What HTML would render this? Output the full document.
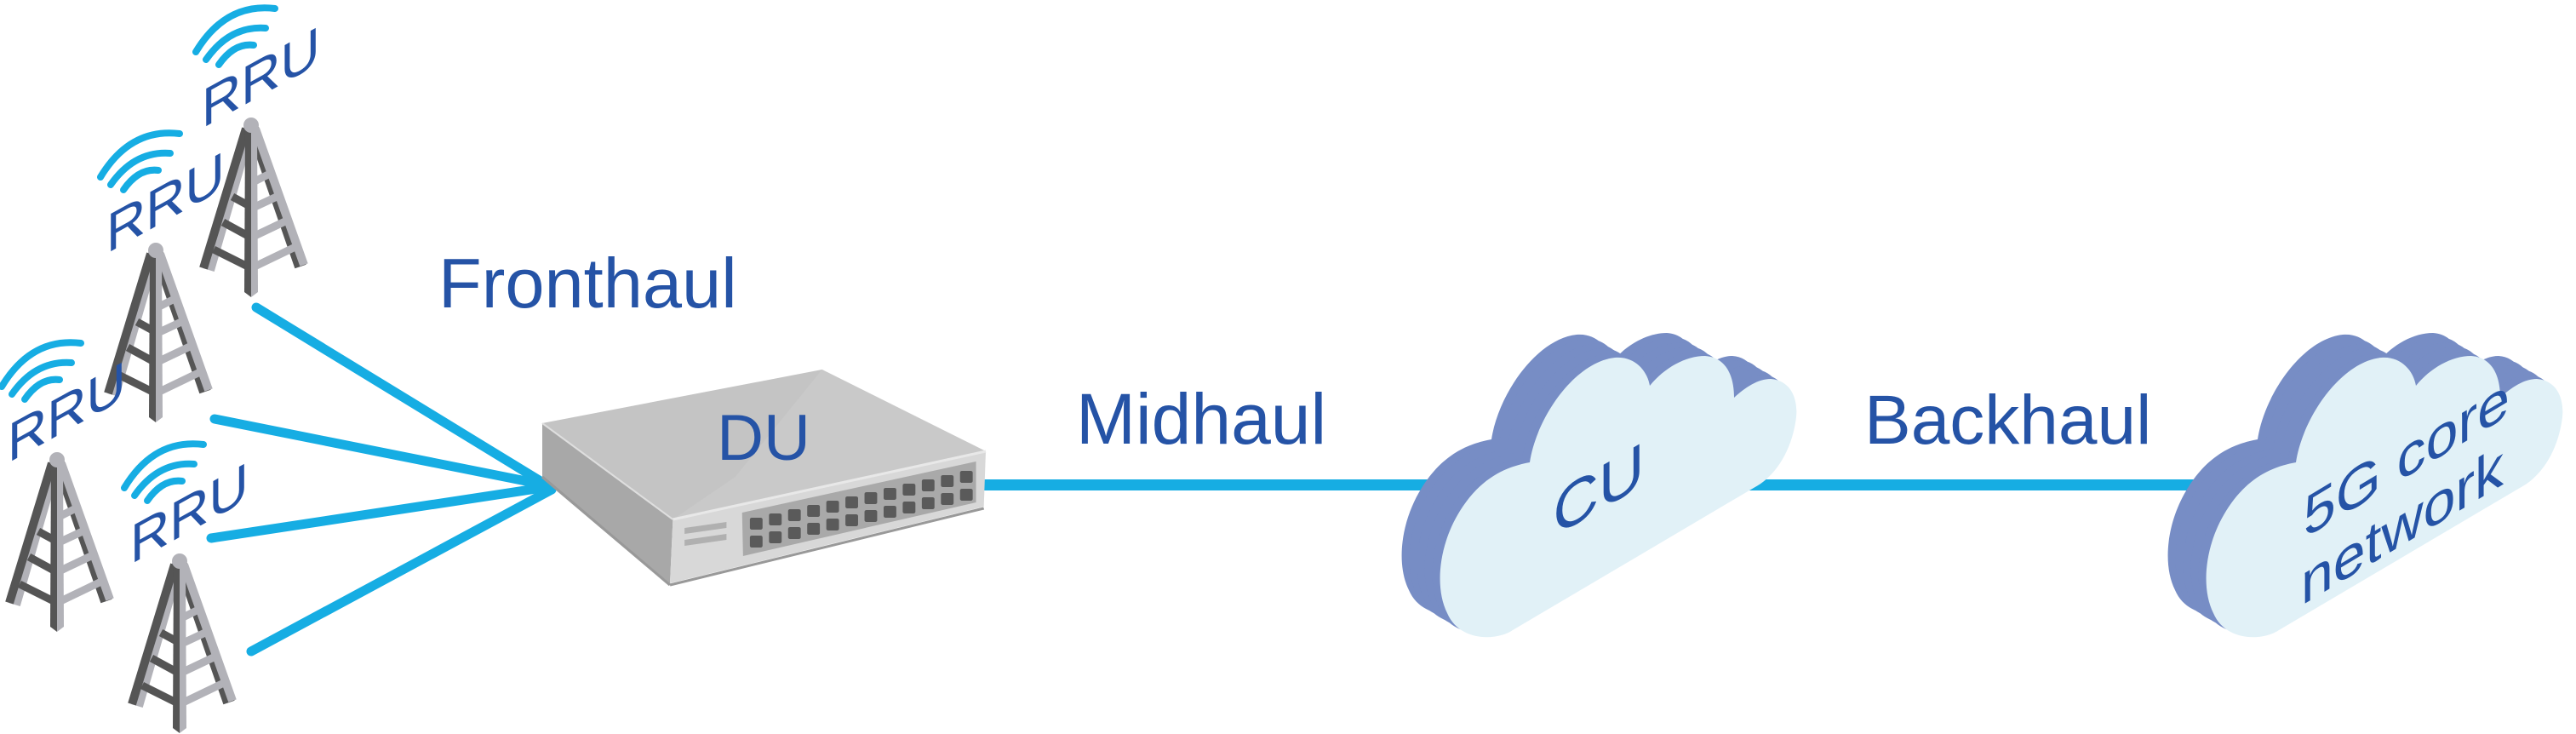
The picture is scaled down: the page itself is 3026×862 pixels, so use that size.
<!DOCTYPE html>
<html><head><meta charset="utf-8"><style>
html,body{margin:0;padding:0;background:#fff;}
svg{display:block;}
text{font-family:"Liberation Sans",sans-serif;fill:#2553a6;}
</style></head><body>
<svg width="3026" height="862" viewBox="0 0 3026 862" xmlns="http://www.w3.org/2000/svg">
<defs>
  <g id="tower">
    <line x1="-2" y1="8" x2="-50" y2="174" stroke="#b2b2b8" stroke-width="14"/>
    <line x1="-6" y1="8" x2="-56" y2="172" stroke="#555" stroke-width="10"/>
    <line x1="2" y1="8" x2="58" y2="170" stroke="#555" stroke-width="14"/>
    <line x1="5" y1="8" x2="62" y2="168" stroke="#b2b2b8" stroke-width="10"/>
    <g stroke="#555" stroke-width="9">
      <line x1="-22" y1="88" x2="0" y2="100"/>
      <line x1="-33" y1="118" x2="0" y2="136"/>
      <line x1="-44" y1="150" x2="0" y2="172"/>
    </g>
    <g stroke="#b2b2b8" stroke-width="9">
      <line x1="0" y1="72" x2="20" y2="62"/>
      <line x1="0" y1="102" x2="30" y2="88"/>
      <line x1="0" y1="136" x2="42" y2="116"/>
      <line x1="0" y1="172" x2="54" y2="146"/>
    </g>
    <polygon points="-7,8 0,8 0,206 -8,200" fill="#555"/>
    <polygon points="0,8 7,8 8,200 0,206" fill="#b2b2b8"/>
    <circle cx="0" cy="4" r="9" fill="#b2b2b8"/>
    <g fill="none" stroke="#16ade3" stroke-width="8" stroke-linecap="round">
      <path d="M-65,-82 Q-30,-140 28,-133"/>
      <path d="M-53,-73 Q-25,-113 17,-110"/>
      <path d="M-38,-67 Q-20,-93 3,-90"/>
    </g>
    <text x="-58" y="8" font-size="64" transform="skewY(-29)" transform-origin="-58 8">RRU</text>
  </g>
  <path id="cloud" d="M1777,740 C1760,752 1715,755 1700,720 C1685,690 1690,640 1715,600 C1740,560 1770,548 1797,543 C1805,490 1850,425 1897,420 C1920,418 1935,435 1938,453 C1955,432 1980,418 2003,418 C2030,420 2037,445 2037,467 C2050,455 2065,445 2080,445 C2105,447 2112,470 2110,490 C2105,530 2085,560 2060,573 Z"/>
  <g id="cloud3d">
    <g fill="#778dc5">
      <use href="#cloud" transform="translate(-45,-27)"/>
      <use href="#cloud" transform="translate(-36,-22)"/>
      <use href="#cloud" transform="translate(-27,-16)"/>
      <use href="#cloud" transform="translate(-18,-11)"/>
      <use href="#cloud" transform="translate(-9,-5)"/>
    </g>
    <use href="#cloud" fill="#e1f1f7"/>
  </g>
</defs>

<g stroke="#16ade3" stroke-width="11" stroke-linecap="round">
  <line x1="301" y1="361" x2="643" y2="570"/>
  <line x1="252" y1="492" x2="643" y2="570"/>
  <line x1="248" y1="632" x2="643" y2="572"/>
  <line x1="295" y1="765" x2="648" y2="575"/>
</g>
<rect x="1150" y="563" width="580" height="13" fill="#16ade3"/>
<rect x="2050" y="563" width="580" height="13" fill="#16ade3"/>

<use href="#tower" transform="translate(295,143)"/>
<use href="#tower" transform="translate(183,290)"/>
<use href="#tower" transform="translate(67,536)"/>
<use href="#tower" transform="translate(211,655)"/>

<g transform="translate(637,0) scale(1.145,1) translate(-632,0)">
<polygon points="632,497 919,434 1087,530 766,610" fill="#c4c4c4"/>
<polygon points="919,434 1087,530 766,610 830,560" fill="#c9c9c9"/>
<polygon points="632,497 766,610 763,685 632,560" fill="#a8a8a8"/>
<polygon points="766,610 1087,530 1085,595 763,685" fill="#d8d8d8"/>
<line x1="632" y1="497" x2="766" y2="610" stroke="#dedede" stroke-width="2"/>
<line x1="766" y1="610" x2="1087" y2="530" stroke="#e8e8e8" stroke-width="3"/>
<line x1="632" y1="560" x2="763" y2="687" stroke="#999" stroke-width="3"/>
<line x1="763" y1="687" x2="1085" y2="597" stroke="#999" stroke-width="3"/>
<polygon points="837,602 1077,542 1077,590 838,653" fill="#a9a9a9"/>
<polygon points="778,620 821,613 821,620 778,627" fill="#b0b0b0"/>
<polygon points="778,634 821,627 821,634 778,641" fill="#b0b0b0"/>
<g fill="#5a5a5a">
<rect x="845" y="608" width="13" height="14" rx="2"/><rect x="845" y="629" width="13" height="14" rx="2"/>
<rect x="864.6" y="603" width="13" height="14" rx="2"/><rect x="864.6" y="624" width="13" height="14" rx="2"/>
<rect x="884.2" y="598" width="13" height="14" rx="2"/><rect x="884.2" y="619" width="13" height="14" rx="2"/>
<rect x="903.8" y="593" width="13" height="14" rx="2"/><rect x="903.8" y="614" width="13" height="14" rx="2"/>
<rect x="923.4" y="588" width="13" height="14" rx="2"/><rect x="923.4" y="609" width="13" height="14" rx="2"/>
<rect x="943" y="583" width="13" height="14" rx="2"/><rect x="943" y="604" width="13" height="14" rx="2"/>
<rect x="962.6" y="578" width="13" height="14" rx="2"/><rect x="962.6" y="599" width="13" height="14" rx="2"/>
<rect x="982.2" y="573" width="13" height="14" rx="2"/><rect x="982.2" y="594" width="13" height="14" rx="2"/>
<rect x="1001.8" y="568" width="13" height="14" rx="2"/><rect x="1001.8" y="589" width="13" height="14" rx="2"/>
<rect x="1021.4" y="563" width="13" height="14" rx="2"/><rect x="1021.4" y="584" width="13" height="14" rx="2"/>
<rect x="1041" y="558" width="13" height="14" rx="2"/><rect x="1041" y="579" width="13" height="14" rx="2"/>
<rect x="1060.6" y="553" width="13" height="14" rx="2"/><rect x="1060.6" y="574" width="13" height="14" rx="2"/>
</g>
</g>
<text x="897" y="540" font-size="76" text-anchor="middle">DU</text>

<use href="#cloud3d"/>
<use href="#cloud3d" transform="translate(900,0)"/>
<text x="1878" y="600" font-size="74" text-anchor="middle" transform="skewY(-30)" transform-origin="1878 600">CU</text>
<text x="2827" y="560" font-size="68" text-anchor="middle" transform="skewY(-31)" transform-origin="2827 560">5G core</text>
<text x="2822" y="640" font-size="68" text-anchor="middle" transform="skewY(-31)" transform-origin="2822 640">network</text>

<text x="515" y="361" font-size="83">Fronthaul</text>
<text x="1264" y="521" font-size="84">Midhaul</text>
<text x="2190" y="521" font-size="82">Backhaul</text>
</svg>
</body></html>
